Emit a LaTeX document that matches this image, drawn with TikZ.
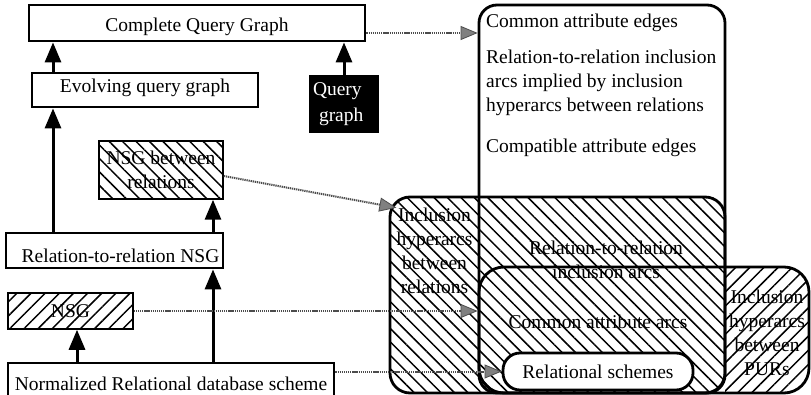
\documentclass[tikz,border=0pt]{standalone}
\usepackage{fontspec}
\setmainfont{Liberation Serif}
\usetikzlibrary{arrows.meta,patterns.meta,calc}
\begin{document}
\begin{tikzpicture}[x=1pt,y=-1pt,
  every node/.style={font=\fontsize{19.5}{24}\selectfont, inner sep=0pt},
  box/.style={draw, line width=2.8pt, rectangle},
  region/.style={draw, line width=2.8pt, rectangle},
  hatchA/.style={pattern={Lines[angle=-45,distance=9.5pt,line width=1.5pt]}},
  hatchB/.style={pattern={Lines[angle=45,distance=10pt,line width=1.5pt]}},
  arr/.style={line width=3pt, -{Triangle[length=20pt,width=16pt]}},
  link/.style={draw=black!70, line width=2pt, dash pattern=on 1.3pt off 0.8pt,
    -{Triangle[length=17pt,width=14pt,fill=black!50,color=black!70,line width=0.8pt]}},
]
\useasboundingbox (0,0) rectangle (811,395);

% ---------- left column ----------
\node[box, minimum width=336pt, minimum height=36pt, text height=18pt, text depth=0pt] (cqg) at (197,23) {Complete Query Graph};
\node[box, minimum width=226pt, minimum height=34pt, text height=6pt, text depth=0pt] (evo) at (145,90) {Evolving query graph};
\node[box, fill=black, text=white, minimum width=68pt, minimum height=56pt, align=left, text width=62pt] (qg) at (344,104) {Query\\[2pt]\hspace*{6pt}graph};
\node[box, hatchA, minimum width=124pt, minimum height=58pt, align=center] (nsgb) at (161,170) {NSG between\\relations};
\node[box, minimum width=217pt, minimum height=35pt, text height=25pt, text depth=0pt] (rtr) at (114.5,250.5) {\hspace*{12pt}Relation-to-relation NSG};
\node[box, hatchB, minimum width=125pt, minimum height=36pt, text height=12pt, text depth=0pt] (nsg) at (70.5,311) {NSG};
\node[box, minimum width=326pt, minimum height=34pt, text height=20pt, text depth=0pt] (norm) at (171,380) {Normalized Relational database scheme};

% ---------- right regions ----------
\node[region, hatchA, rounded corners=20pt, minimum width=335pt, minimum height=196pt] (incl) at (557.5,295) {};
\begin{scope}
  \clip (725,250) rectangle (815,400);
  \path[hatchB, rounded corners=25pt] (479,267) rectangle (809,393);
\end{scope}
\node[region, rounded corners=25pt, minimum width=330pt, minimum height=126pt] (pur) at (644,330) {};
\node[region, rounded corners=18pt, minimum width=246pt, minimum height=388pt] (big) at (602,199) {};
\node[region, fill=white, rounded corners=17pt, minimum width=190pt, minimum height=37pt] (rs) at (598,371.5) {Relational schemes};

% ---------- right texts ----------
\node[anchor=base west] (cae) at (486,28) {Common attribute edges};
\node[anchor=north west, align=left] (rrt) at (486,49.7) {Relation-to-relation inclusion\\arcs implied by inclusion\\hyperarcs between relations};
\node[anchor=base west] (cpe) at (486,153) {Compatible attribute edges};
\node[anchor=north, align=center] (ihr) at (434.5,207.7) {Inclusion\\hyperarcs\\between\\relations};
\node[anchor=north, align=center] (rri) at (606,240.7) {Relation-to-relation\\inclusion arcs};
\node[anchor=base] (caa) at (598,328) {Common attribute arcs};
\node[anchor=north, align=center] (ihp) at (767,289.7) {Inclusion\\hyperarcs\\between\\PURs};

% ---------- solid arrows ----------
\coordinate (xa) at (53,0);
\coordinate (xc) at (213,0);
\coordinate (xd) at (77,0);
\draw[arr] (xa |- evo.north) -- (xa |- cqg.south);
\draw[arr] (qg.north) -- (qg.north |- cqg.south);
\draw[arr] (xa |- rtr.north) -- (xa |- evo.south);
\draw[arr] (xc |- rtr.north) -- (xc |- nsgb.south);
\draw[arr] (xc |- norm.north) -- (xc |- rtr.south);
\draw[arr] (xd |- norm.north) -- (xd |- nsg.south);

% ---------- dotted links ----------
\coordinate (c1) at ([yshift=-10pt]cqg.east);
\coordinate (n1) at ([yshift=-6pt]nsgb.east);
\draw[link] (c1) -- (c1 -| big.west);
\draw[link] (n1) -- (ihr.north west);
\draw[link] (nsg.east) -- (nsg.east -| pur.west);
\draw[link] (norm.east |- rs.west) -- (rs.west);
\end{tikzpicture}
\end{document}
